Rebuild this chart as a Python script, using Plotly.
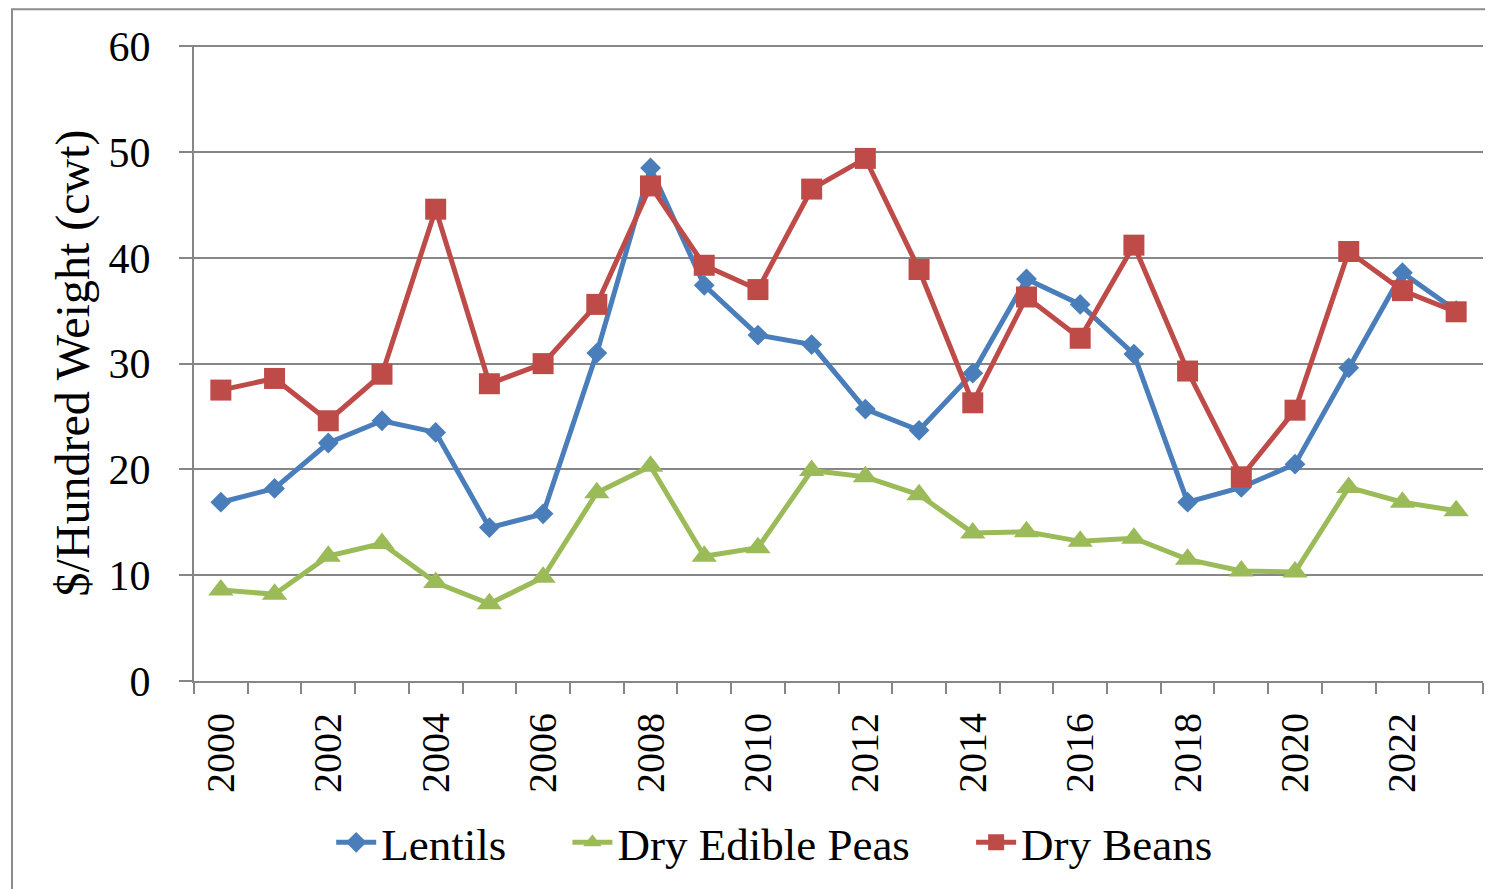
import plotly.graph_objects as go

years = list(range(2000, 2024))
lentils = [16.9, 18.2, 22.5, 24.6, 23.5, 14.5, 15.8, 31.0, 48.5, 37.4, 32.7, 31.8,
           25.7, 23.7, 29.1, 38.0, 35.6, 30.9, 16.9, 18.3, 20.5, 29.6, 38.6, 35.0]
peas = [8.6, 8.2, 11.8, 13.0, 9.3, 7.3, 9.8, 17.8, 20.3, 11.8, 12.6, 19.9,
        19.3, 17.6, 14.0, 14.1, 13.2, 13.5, 11.5, 10.4, 10.3, 18.3, 16.9, 16.1]
beans = [27.5, 28.6, 24.6, 29.0, 44.6, 28.1, 30.0, 35.6, 46.8, 39.3, 37.0, 46.5,
         49.4, 38.9, 26.3, 36.3, 32.4, 41.2, 29.3, 19.3, 25.6, 40.6, 36.9, 34.9]
tick_years = list(range(2000, 2024, 2))
boundaries = [y - 0.5 for y in range(2000, 2025)]
y_ticks = [0, 10, 20, 30, 40, 50, 60]

FONT = "Liberation Serif"
GRAY = "#868686"
PAD = "\u00a0" * 5
fig = go.Figure()
fig.add_trace(go.Scatter(x=years, y=lentils, name="Lentils" + PAD, mode="lines+markers",
                         line=dict(color="#4A7EBB", width=5),
                         marker=dict(symbol="diamond", size=16, color="#4A7EBB")))
fig.add_trace(go.Scatter(x=years, y=peas, name="Dry Edible Peas" + PAD, mode="lines+markers",
                         line=dict(color="#9BBB59", width=5),
                         marker=dict(symbol="triangle-up", size=22, color="#9BBB59")))
fig.add_trace(go.Scatter(x=years, y=beans, name="Dry Beans", mode="lines+markers",
                         line=dict(color="#BE4B48", width=5),
                         marker=dict(symbol="square", size=21, color="#BE4B48")))

fig.update_layout(
    width=1485, height=881,
    margin=dict(l=186, r=10, t=37, b=205),
    paper_bgcolor="white", plot_bgcolor="white",
    font=dict(family=FONT, color="black", size=40),
    showlegend=True,
    legend=dict(orientation="h", x=0.4505, y=-0.254, xanchor="center", yanchor="middle",
                font=dict(size=45, family=FONT), itemwidth=40, tracegroupgap=0),
    xaxis=dict(range=[1999.5, 2023.5], tickmode="array", tickvals=tick_years,
               ticktext=[str(y) for y in tick_years], tickangle=-90,
               ticks="", showgrid=False, showline=True, linecolor=GRAY, linewidth=2,
               zeroline=False, tickfont=dict(size=40, family=FONT),
               ticklabelstandoff=14,
               minor=dict(tickmode="array", tickvals=boundaries, ticks="outside",
                          ticklen=11, tickwidth=2, tickcolor=GRAY, showgrid=False)),
    yaxis=dict(range=[0, 60.12], tickmode="array", tickvals=y_ticks,
               showgrid=True, gridcolor=GRAY, gridwidth=2, showline=True, linecolor=GRAY,
               linewidth=2, ticks="outside", ticklen=13, tickwidth=2, tickcolor=GRAY,
               zeroline=False, tickfont=dict(size=42, family=FONT),
               ticklabelstandoff=20,
               title=dict(text="$/Hundred Weight (cwt)", font=dict(size=48, family=FONT),
                          standoff=4)),
    shapes=[dict(type="rect", xref="paper", yref="paper", x0=-0.1412, x1=1.2,
                 y0=-0.6, y1=1.0563, line=dict(color="#8C8C8C", width=2),
                 fillcolor="rgba(0,0,0,0)", layer="below")],
)

fig.write_html("out.html")
